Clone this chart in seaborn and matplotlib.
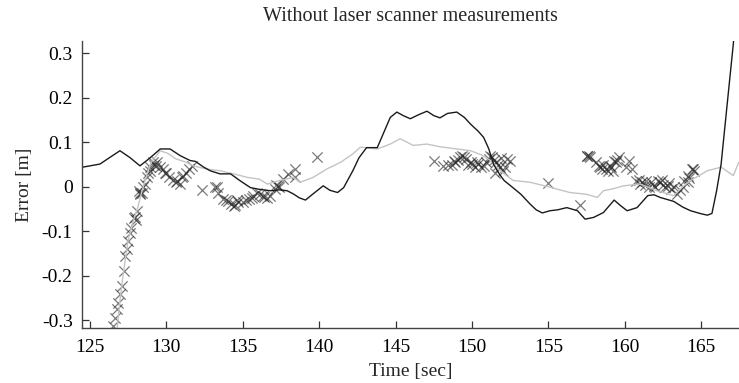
import matplotlib
matplotlib.use("Agg")
import matplotlib.pyplot as plt
import matplotlib.ticker as mticker
import seaborn as sns
import pandas as pd

# ---- data ----
black_t = [124.35, 125.0, 125.65, 126.3, 126.96, 127.6, 128.27, 128.9, 129.6, 130.24, 130.9,
           131.55, 131.9, 132.4, 132.86, 133.5, 134.2, 134.8, 135.5, 136.1, 136.8, 137.4,
           137.9, 138.3, 138.7, 139.1, 139.6, 140.26, 140.7, 141.2, 141.6, 142.2, 142.6,
           143.1, 143.8, 144.2, 144.65, 145.08, 145.5, 145.96, 146.5, 147.05, 147.5, 147.9,
           148.4, 149.0, 149.5, 149.9, 150.4, 150.76, 151.1, 151.4, 151.8, 152.1, 152.6,
           153.2, 153.8, 154.2, 154.6, 155.1, 155.6, 156.2, 156.9, 157.4, 157.96, 158.6,
           159.0, 159.3, 159.7, 160.15, 160.8, 161.5, 161.9, 162.3, 163.2, 163.8, 164.3,
           164.9, 165.4, 165.7, 166.0, 166.3, 166.7, 167.1, 167.2]
black_v = [0.043, 0.047, 0.051, 0.066, 0.081, 0.066, 0.047, 0.064, 0.085, 0.085, 0.070,
           0.059, 0.057, 0.045, 0.036, 0.029, 0.029, 0.014, -0.002, -0.006, -0.009, -0.007,
           -0.009, -0.016, -0.025, -0.030, -0.016, 0.002, -0.008, -0.013, -0.002, 0.036, 0.065,
           0.088, 0.088, 0.120, 0.156, 0.168, 0.160, 0.153, 0.162, 0.170, 0.160, 0.155,
           0.165, 0.168, 0.156, 0.141, 0.125, 0.111, 0.085, 0.051, 0.028, 0.014, 0.000,
           -0.017, -0.039, -0.052, -0.059, -0.054, -0.052, -0.047, -0.054, -0.073, -0.069, -0.058,
           -0.042, -0.030, -0.042, -0.054, -0.047, -0.020, -0.018, -0.024, -0.033, -0.046, -0.054,
           -0.060, -0.064, -0.060, -0.010, 0.051, 0.187, 0.322, 0.36]

gray_t = [126.75, 126.95, 127.2, 127.5, 127.8, 128.1, 128.4, 128.7, 129.0, 129.6, 130.1,
          130.6, 131.3, 131.75, 132.6, 133.5, 134.4, 135.3, 136.1, 136.6, 137.4, 138.3,
          138.75, 139.6, 140.5, 141.4, 142.2, 142.7, 143.3, 143.8, 144.65, 145.3, 146.15,
          147.05, 147.9, 149.0, 149.9, 150.6, 151.2, 151.7, 152.1, 152.7, 153.8, 155.1,
          156.4, 157.5, 158.2, 158.6, 159.3, 159.9, 161.0, 162.1, 163.2, 163.8, 164.3,
          165.4, 166.3, 167.1, 167.45]
gray_v = [-0.33, -0.26, -0.19, -0.12, -0.08, -0.05, -0.01, 0.025, 0.055, 0.081, 0.075,
          0.063, 0.055, 0.047, 0.040, 0.036, 0.029, 0.021, 0.017, 0.006, 0.014, 0.021,
          0.010, 0.021, 0.040, 0.055, 0.074, 0.089, 0.087, 0.085, 0.096, 0.108, 0.093,
          0.096, 0.090, 0.085, 0.081, 0.072, 0.059, 0.040, 0.029, 0.014, 0.010, -0.001,
          -0.013, -0.017, -0.024, -0.009, -0.004, 0.002, 0.006, -0.009, -0.020, 0.000, 0.014,
          0.036, 0.044, 0.025, 0.055]

meas_t = [126.5, 126.65, 126.75, 126.85, 126.96, 127.07, 127.2, 127.3, 127.4, 127.5, 127.6,
          127.7, 127.95, 128.06, 128.27, 128.4, 128.5, 128.6, 128.7, 128.8, 128.9, 129.1,
          129.35, 129.6, 129.9, 130.2, 130.6, 130.9, 131.0, 131.3, 131.65, 132.3, 133.2,
          133.4, 133.7, 134.0, 134.4, 134.7, 135.0, 135.4, 135.7, 136.1, 136.4, 136.75,
          137.1, 137.3, 137.65, 137.95, 138.4, 138.4, 139.85,
          147.5, 148.1, 148.7, 148.9, 149.2, 149.5, 149.9, 150.2, 150.4, 150.8, 151.1,
          151.3, 151.6, 151.8, 152.0, 152.3, 152.5, 155.0, 157.05, 157.5, 157.7, 158.3,
          158.75, 159.0, 159.2, 159.3, 159.6, 160.3, 160.5, 160.7, 161.0, 161.4, 161.6,
          161.9, 162.3, 162.5, 162.8, 163.0, 163.4, 163.8, 164.1, 164.1, 164.4,
          # dense parts of the clusters
          129.2, 129.4, 129.8, 130.0, 130.4, 130.7, 131.1, 131.5, 128.95, 128.2, 128.3,
          127.9, 128.0,
          133.9, 134.2, 134.5, 134.6, 135.2, 135.6, 135.9, 136.3, 136.6, 137.2, 137.4, 133.3,
          148.4, 148.8, 149.1, 149.35, 149.6, 149.75, 150.0, 150.3, 150.6, 150.9, 151.2,
          151.45, 151.7, 151.9, 152.15, 151.5,
          157.55, 157.65, 158.1, 158.4, 158.5, 158.6, 158.9, 159.1, 159.4, 159.5,
          160.1, 160.9, 161.1, 161.3, 161.7, 162.0, 162.2, 162.4, 162.6, 162.9, 163.2,
          163.6, 163.9, 164.2, 164.5, 164.45]
meas_v = [-0.314, -0.295, -0.276, -0.261, -0.242, -0.224, -0.190, -0.156, -0.140, -0.122, -0.103,
          -0.092, -0.069, -0.054, -0.017, -0.013, 0.000, 0.006, 0.021, 0.032, 0.036, 0.055,
          0.047, 0.044, 0.032, 0.021, 0.010, 0.006, 0.021, 0.032, 0.047, -0.008, -0.001,
          -0.015, -0.028, -0.032, -0.043, -0.035, -0.035, -0.028, -0.020, -0.017, -0.024, -0.020,
          -0.005, 0.002, 0.017, 0.029, 0.040, 0.021, 0.068,
          0.059, 0.047, 0.050, 0.055, 0.066, 0.068, 0.055, 0.044, 0.051, 0.047, 0.062,
          0.068, 0.055, 0.044, 0.036, 0.062, 0.059, 0.008, -0.041, 0.070, 0.068, 0.047,
          0.040, 0.047, 0.036, 0.059, 0.066, 0.059, 0.040, 0.014, 0.006, 0.012, 0.000,
          0.002, 0.010, 0.005, 0.002, -0.005, -0.017, 0.000, 0.010, 0.025, 0.040,
          0.050, 0.055, 0.040, 0.030, 0.015, 0.012, 0.025, 0.040, 0.045, -0.010, -0.015,
          -0.070, -0.075,
          -0.030, -0.038, -0.040, -0.030, -0.030, -0.025, -0.015, -0.020, -0.025, 0.005, 0.000, 0.000,
          0.050, 0.058, 0.060, 0.070, 0.062, 0.050, 0.052, 0.055, 0.045, 0.055, 0.070,
          0.060, 0.050, 0.065, 0.045, 0.030,
          0.070, 0.070, 0.055, 0.045, 0.040, 0.050, 0.035, 0.045, 0.055, 0.060,
          0.045, 0.015, 0.010, 0.005, 0.010, 0.000, 0.012, 0.015, 0.000, 0.008, 0.000,
          -0.008, 0.012, 0.020, 0.035, 0.040]

y_ticks = [-0.3, -0.2, -0.1, 0, 0.1, 0.2, 0.3]
x_ticks = [125, 130, 135, 140, 145, 150, 155, 160, 165]

# ---- plot ----
sns.set_style("ticks")
plt.rcParams['font.family'] = ['Liberation Serif', 'DejaVu Serif']

fig = plt.figure(figsize=(7.39, 3.83), dpi=100)
ax = fig.add_axes([0.1106, 0.1428, 0.8894, 0.7502])

black_df = pd.DataFrame({"t": black_t, "v": black_v})
gray_df = pd.DataFrame({"t": gray_t, "v": gray_v})
meas_df = pd.DataFrame({"t": meas_t, "v": meas_v})

sns.lineplot(data=gray_df, x="t", y="v", ax=ax, color="#c4c4c4", linewidth=1.0, sort=False)
sns.lineplot(data=black_df, x="t", y="v", ax=ax, color="#1a1a1a", linewidth=1.0, sort=False)
sns.scatterplot(data=meas_df, x="t", y="v", ax=ax, marker="x", color="#222222",
                s=55, linewidth=0.9, alpha=0.6)

ax.set_xlim(124.46, 167.47)
ax.set_ylim(-0.3186, 0.328)
ax.set_xticks(x_ticks)
ax.set_yticks(y_ticks)
ax.yaxis.set_major_formatter(mticker.FuncFormatter(lambda v, p: "0" if abs(v) < 1e-9 else f"{v:.1f}"))
ax.tick_params(direction="in", length=5, width=0.9, colors="#333333", labelsize=14,
               labelcolor="black")
ax.tick_params(axis="x", pad=7.5)
ax.tick_params(axis="y", pad=6.5)
ax.set_xlabel("Time [sec]", fontsize=14, labelpad=5)
ax.set_ylabel("Error [m]", fontsize=14, labelpad=6)
for side in ["top", "right"]:
    ax.spines[side].set_visible(False)
for side in ["left", "bottom"]:
    ax.spines[side].set_color("#444444")
    ax.spines[side].set_linewidth(1.0)

fig.text(0.5553, 0.956, "Without laser scanner measurements", ha="center", va="center", fontsize=14.5)

fig.savefig("out.png", dpi=100)
